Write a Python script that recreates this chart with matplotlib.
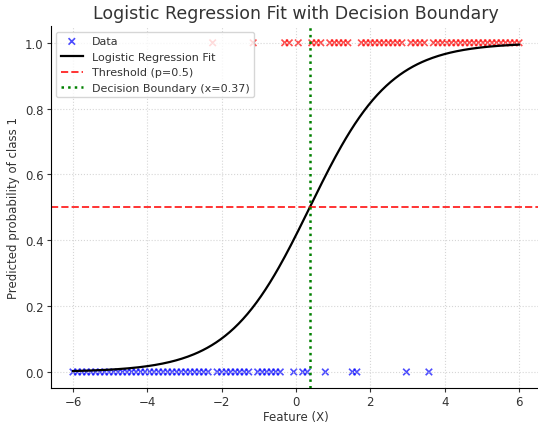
import numpy as np
import matplotlib
matplotlib.use("Agg")
import matplotlib.pyplot as plt

# Feature values: 100 evenly spaced samples from -6 to 6
x_start, x_stop, n_points = -6, 6, 100
# indices of samples that belong to class 1
class1_idx = [31, 40, 47, 48, 50, 53, 54, 55, 57, 58, 59, 60, 61,
              64, 65, 66, 67, 68, 69, 70, 71, 72, 73,
              75, 76, 77, 78] + list(range(80, 100))

# fitted model: slope and decision boundary
coef = 0.92
boundary = 0.37
threshold = 0.5

X = np.linspace(x_start, x_stop, n_points)
y = np.zeros(n_points)
y[class1_idx] = 1

x_curve = np.linspace(x_start, x_stop, 300)
p_curve = 1 / (1 + np.exp(-coef * (x_curve - boundary)))

plt.rcParams['text.color'] = '#333333'
plt.rcParams['axes.labelcolor'] = '#333333'
plt.rcParams['xtick.color'] = '#333333'
plt.rcParams['ytick.color'] = '#333333'

fig = plt.figure(figsize=(5.38, 4.27), dpi=100)
ax = fig.add_axes([0.0942, 0.088, 0.912, 0.848])

ax.scatter(X, y, c=y, cmap='bwr', marker='x', alpha=0.7, s=22, linewidths=1.2, label='Data')
ax.plot(x_curve, p_curve, color='black', lw=1.6, label='Logistic Regression Fit')
ax.axhline(threshold, color='red', ls='--', lw=1.4, alpha=0.8, label='Threshold (p=0.5)')
ax.axvline(boundary, color='green', ls=':', lw=1.8, label=f'Decision Boundary (x={boundary:.2f})')

ax.set_title('Logistic Regression Fit with Decision Boundary', fontsize=12.5)
ax.set_xlabel('Feature (X)', fontsize=8.5, labelpad=1)
ax.set_ylabel('Predicted probability of class 1', fontsize=8.5, labelpad=4)
ax.tick_params(labelsize=8.5, length=3, pad=2)
ax.grid(True, ls=':', color='#cccccc', alpha=0.8)
ax.spines['top'].set_visible(False)
ax.spines['right'].set_visible(False)
ax.legend(loc='upper left', fontsize=8)

fig.savefig('out.png', dpi=100)
